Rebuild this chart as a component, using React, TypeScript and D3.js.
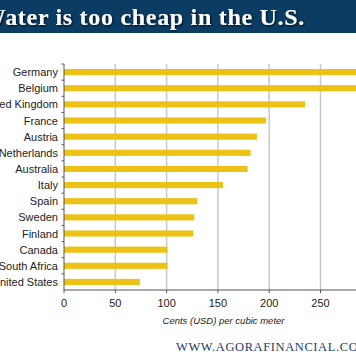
import React from "react";
import * as d3 from "d3";

const countries = ["Germany","Belgium","United Kingdom","France","Austria","Netherlands","Australia","Italy","Spain","Sweden","Finland","Canada","South Africa","United States"];
const cents = [300,300,235,197,188,182,179,155,130,127,126,101,101,74];
const xTicks = [0,50,100,150,200,250];

const W = 356, H = 364;
const left = 64, top = 64, bottom = 290;

export default function App() {
  const x = d3.scaleLinear().domain([0, 300]).range([left, left + 300 * 1.026]);
  const y = d3.scaleBand().domain(countries).range([top, bottom]).paddingInner(0.62).paddingOuter(0.31);
  const yb = d3.scaleBand().domain(countries).range([top, bottom]);
  const sans = "'Liberation Sans', Arial, sans-serif";
  return (
    <svg width={W} height={H} style={{ position: "absolute", left: 0, top: 0, background: "#fff" }}>
      <defs>
        <filter id="sh" x="-10%" y="-30%" width="120%" height="160%">
          <feDropShadow dx="1" dy="1" stdDeviation="0.8" floodColor="#000" floodOpacity="0.8" />
        </filter>
      </defs>
      <rect x={0} y={0} width={W} height={33} fill="#0b3c64" />
      <text x={305} y={25} textAnchor="end" fill="#fff" fontFamily="'Liberation Serif', 'DejaVu Serif', serif" fontWeight="bold" fontSize={24} letterSpacing={0.7} filter="url(#sh)">Water is too cheap in the U.S.</text>
      {[...xTicks.slice(1), 300].map(t => (
        <line key={t} x1={x(t)} x2={x(t)} y1={top} y2={bottom} stroke="#c8c8c8" strokeWidth={1.5} />
      ))}
      {countries.map((c, i) => (
        <rect key={c} x={x(0)} y={y(c)} width={x(cents[i]) - x(0)} height={y.bandwidth()} fill="#ecc217" />
      ))}
      <line x1={left} x2={left} y1={top} y2={bottom} stroke="#555" strokeWidth={1} />
      {countries.map(c => (
        <line key={c} x1={left - 2.5} x2={left} y1={yb(c)} y2={yb(c)} stroke="#555" strokeWidth={1} />
      ))}
      <line x1={left} x2={W} y1={bottom} y2={bottom} stroke="#555" strokeWidth={1} />
      {xTicks.map(t => (
        <line key={t} x1={x(t)} x2={x(t)} y1={bottom} y2={bottom + 3} stroke="#555" strokeWidth={1} />
      ))}
      {countries.map(c => (
        <text key={c} x={58} y={yb(c) + yb.bandwidth() / 2 + 4} textAnchor="end" fontFamily={sans} fontSize={11} fill="#222">{c}</text>
      ))}
      {xTicks.map(t => (
        <text key={t} x={x(t)} y={307} textAnchor="middle" fontFamily={sans} fontSize={11} fill="#222">{t}</text>
      ))}
      <text x={223.5} y={324} textAnchor="middle" fontFamily={sans} fontStyle="italic" fontSize={9.5} fill="#222">Cents (USD) per cubic meter</text>
      <text x={176} y={351} fontFamily="'Liberation Serif', serif" fontSize={12.5} letterSpacing={0.6} fill="#1d3c66">WWW.AGORAFINANCIAL.COM</text>
    </svg>
  );
}
